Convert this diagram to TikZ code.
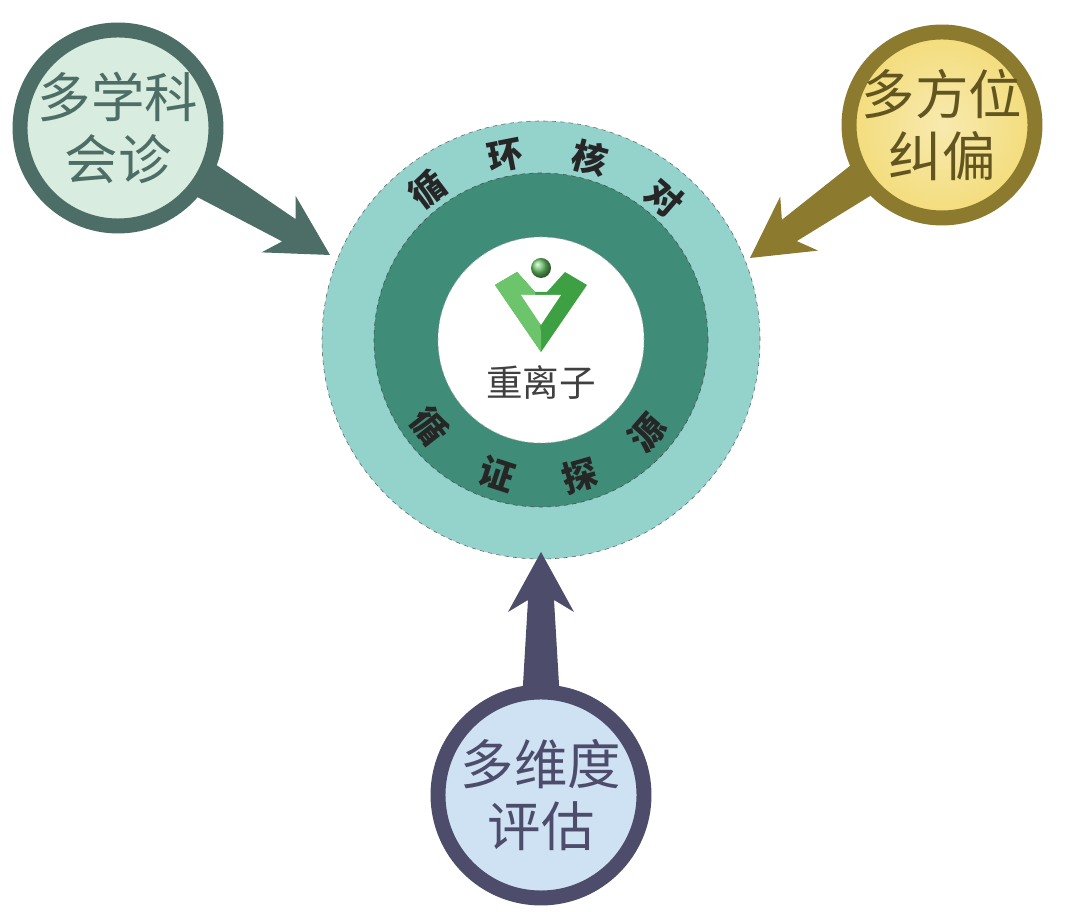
\documentclass[tikz,border=0pt]{standalone}
\usepackage{fontspec}
\usetikzlibrary{calc}
\newfontfamily\cjk{Noto Sans CJK SC}
\newfontfamily\cjkb{Noto Sans CJK SC Medium}
\definecolor{ringA}{HTML}{94D2CC}
\definecolor{ringB}{HTML}{3F8C79}
\definecolor{lcol}{HTML}{4C6E66}
\definecolor{lfill}{HTML}{D8ECDF}
\definecolor{rcol}{HTML}{8C7A2E}
\definecolor{rfill}{HTML}{F3DC7A}
\definecolor{bcol}{HTML}{4D4D6B}
\definecolor{bfill}{HTML}{CFE2F3}
\definecolor{logoG}{HTML}{3DA043}
\definecolor{logoL}{HTML}{6CC56A}
\begin{document}
\begin{tikzpicture}[x=0.025cm,y=0.025cm,
  bubtext/.style={font=\cjk\fontsize{38}{44}\selectfont,align=center},
  ringtext/.style={font=\cjk\fontsize{25}{25}\selectfont\bfseries,text=black!85},
  bub/.style={circle,line width=15*0.709pt,minimum size=196*0.025cm,inner sep=0pt}]
\useasboundingbox (0,0) rectangle (1080,912);
\fill[white] (0,0) rectangle (1080,912);
\newcommand{\myarrow}[4]{% tip x, tip y, angle, color
  \begin{scope}[shift={(#1,#2)},rotate=#3]
    \fill[#4] (0,0) -- (60,33) -- (48,13) -- (200,22) -- (200,-22) -- (48,-13) -- (60,-33) -- cycle;
  \end{scope}}
% main circles
\node[circle,fill=ringA,draw=black!60,dashed,minimum size=438*0.025cm,inner sep=0pt] (outer) at (541,572) {};
\node[circle,fill=ringB,draw=black!70,dashed,minimum size=334*0.025cm,inner sep=0pt] (mid) at (541,572) {};
\node[circle,fill=white,draw=black!30,dashed,minimum size=206*0.025cm,inner sep=0pt] (inner) at (541,572) {};
% ring text
\foreach \a/\t in {127/循,101/环,75/核,49/对}
  \node[ringtext,rotate=\a-90] at ($(541,572)+(\a:188)$) {\t};
\foreach \a/\t in {218/循,252/证,286/探,319/源}
  \node[ringtext,rotate=\a+90] at ($(541,572)+(\a:141)$) {\t};
% logo
\fill[logoG] (495,627) -- (517,640) -- (535,620) -- (547,620) -- (565,640) -- (587,627) -- (541,560) -- cycle;
\fill[logoL] (517,640) -- (535,620) -- (541,580) -- (541,560) -- (495,627) -- cycle;
\fill[white] (521,617) -- (561,617) -- (541,587) -- cycle;
\shade[ball color=logoL] (541,644) circle (10);
\node[font=\cjk\fontsize{26}{26}\selectfont,text=black!75] (logo) at (541,530) {重离子};
% arrows
\myarrow{330}{657}{149}{lcol}
\myarrow{750}{654}{35}{rcol}
\myarrow{541}{360}{-90}{bcol}
% bubbles
\node[bub,draw=lcol,fill=lfill] (b1) at (118,784) {};
\node[bubtext,text=lcol] at (b1) {多学科\\会诊};
\node[bub,draw=rcol,inner color=rfill!60!white,outer color=rfill,minimum size=186*0.025cm] (b2) at (942,787) {};
\node[bubtext,text=rcol!70!black] at (b2) {多方位\\纠偏};
\node[bub,draw=bcol,fill=bfill,minimum size=206*0.025cm] (b3) at (541,117) {};
\node[bubtext,text=bcol] at (b3) {多维度\\评估};
\end{tikzpicture}
\end{document}
